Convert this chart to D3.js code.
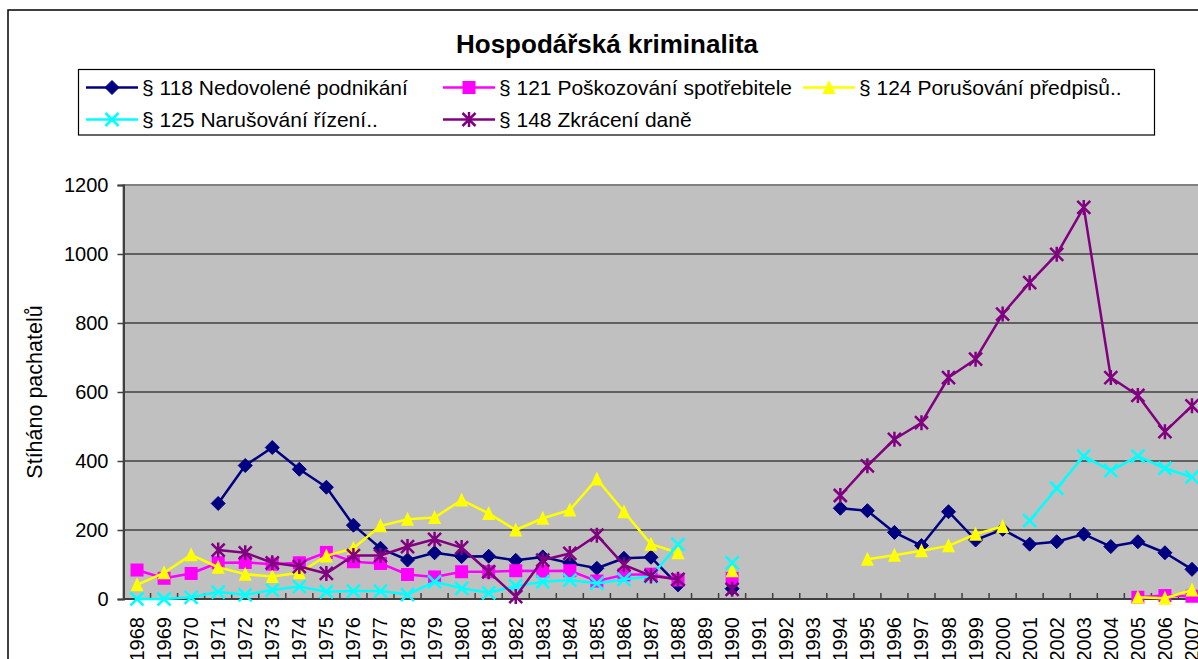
<!DOCTYPE html>
<html>
<head>
<meta charset="utf-8">
<script src="https://cdn.jsdelivr.net/npm/d3@7"></script>
<style>
  html, body { margin: 0; padding: 0; background: #fff; }
  svg { display: block; font-family: "Liberation Sans", Arial, sans-serif; }
</style>
</head>
<body>
<svg id="chart" width="1198" height="659"></svg>
<script>
const years = [1968,1969,1970,1971,1972,1973,1974,1975,1976,1977,1978,1979,1980,1981,1982,1983,1984,1985,1986,1987,1988,1989,1990,1991,1992,1993,1994,1995,1996,1997,1998,1999,2000,2001,2002,2003,2004,2005,2006,2007];
const yTicks = [0, 200, 400, 600, 800, 1000, 1200];
const seriesNames = ["§ 118 Nedovolené podnikání", "§ 121 Poškozování spotřebitele", "§ 124 Porušování předpisů..", "§ 125 Narušování řízení..", "§ 148 Zkrácení daně"];
const seriesColors = ["#000080", "#FF00FF", "#FFFF00", "#00FFFF", "#800080"];
const seriesMarkers = ["diamond", "square", "triangle", "x", "star"];

const s118 = [null,null,null,277,387,439,376,324,214,147,113,134,123,124,112,122,104,89,118,121,41,null,30,null,null,null,263,256,193,155,253,171,202,159,166,188,152,166,134,86];
const s121 = [84,60,74,105,106,101,105,135,108,103,71,64,79,79,82,81,82,52,70,72,55,null,60,null,null,null,null,null,null,null,null,null,null,null,null,null,null,5,10,8];
const s124 = [41,76,128,92,72,65,76,125,147,212,231,236,287,248,200,234,258,348,253,159,134,null,82,null,null,null,null,115,127,140,154,188,210,null,null,null,null,5,2,26];
const s125 = [0,0,5,20,12,26,36,21,23,23,13,50,31,18,38,50,55,45,57,65,158,null,105,null,null,null,null,null,null,null,null,null,null,227,321,414,372,414,379,353];
const s148 = [null,null,null,142,134,105,94,74,126,126,152,173,149,79,7,113,132,185,99,67,57,null,28,null,null,null,300,386,463,511,642,695,826,917,999,1135,642,590,485,560];
const seriesValues = [s118, s121, s124, s125, s148];

const svg = d3.select("#chart");
const plot = { left: 123.5, top: 185, right: 1205.5, bottom: 599 };

// outer chart border
svg.append("rect").attr("x", 8).attr("y", 10).attr("width", 1400).attr("height", 900)
  .attr("fill", "#fff").attr("stroke", "#000").attr("stroke-width", 1.5);

// title
svg.append("text").attr("x", 607).attr("y", 53).attr("text-anchor", "middle")
  .attr("font-size", 26).attr("font-weight", "bold").text("Hospodářská kriminalita");

const x = d3.scaleBand().domain(years).range([plot.left, plot.right]).paddingInner(0).paddingOuter(0);
const cx = d => x(d) + x.bandwidth() / 2;
const y = d3.scaleLinear().domain([0, 1200]).range([plot.bottom, plot.top]);

// plot area
svg.append("rect").attr("x", plot.left).attr("y", plot.top)
  .attr("width", plot.right - plot.left).attr("height", plot.bottom - plot.top)
  .attr("fill", "#C0C0C0").attr("stroke", "#808080").attr("stroke-width", 2);

// gridlines
svg.append("g").selectAll("line").data(yTicks.filter(t => t > 0 && t < 1200)).join("line")
  .attr("x1", plot.left).attr("x2", plot.right)
  .attr("y1", d => y(d)).attr("y2", d => y(d))
  .attr("stroke", "#000").attr("stroke-width", 1);

// y axis
const yAxis = d3.axisLeft(y).tickValues(yTicks).tickSize(6).tickPadding(9).tickFormat(d3.format("d"));
const gy = svg.append("g").attr("transform", `translate(${plot.left},0)`).call(yAxis);
gy.select(".domain").attr("stroke", "#404040").attr("stroke-width", 2);
gy.selectAll(".tick line").attr("stroke", "#404040").attr("stroke-width", 1.5);
gy.selectAll(".tick text").attr("font-size", 20).attr("font-family", "Liberation Sans, Arial, sans-serif").attr("fill", "#000");

// x axis line + inward ticks at band boundaries
const gx = svg.append("g");
gx.append("line").attr("x1", plot.left).attr("x2", plot.right).attr("y1", plot.bottom).attr("y2", plot.bottom)
  .attr("stroke", "#404040").attr("stroke-width", 2);
gx.selectAll("line.tk").data(years.slice(1)).join("line").attr("class", "tk")
  .attr("x1", d => x(d)).attr("x2", d => x(d))
  .attr("y1", plot.bottom).attr("y2", plot.bottom - 6)
  .attr("stroke", "#404040").attr("stroke-width", 1.5);
gx.selectAll("text").data(years).join("text")
  .attr("transform", d => `translate(${cx(d)},617) rotate(-90)`)
  .attr("text-anchor", "end").attr("dy", "0.35em")
  .attr("font-size", 20).text(d => d);

// y axis title
svg.append("text").attr("transform", `translate(42,${(plot.top + plot.bottom) / 2}) rotate(-90)`)
  .attr("text-anchor", "middle").attr("font-size", 21.5).text("Stíháno pachatelů");

// marker drawing
function drawMarker(g, type, color, px, py, s) {
  const h = s / 2;
  if (type === "diamond") {
    g.append("path").attr("d", `M${px},${py - h}L${px + h},${py}L${px},${py + h}L${px - h},${py}Z`).attr("fill", color).attr("stroke", color);
  } else if (type === "square") {
    g.append("rect").attr("x", px - h).attr("y", py - h).attr("width", s).attr("height", s).attr("fill", color);
  } else if (type === "triangle") {
    g.append("path").attr("d", `M${px},${py - h - 1}L${px + h},${py + h}L${px - h},${py + h}Z`).attr("fill", color);
  } else if (type === "x") {
    g.append("path").attr("d", `M${px - h},${py - h}L${px + h},${py + h}M${px - h},${py + h}L${px + h},${py - h}`)
      .attr("stroke", color).attr("stroke-width", 2.5).attr("fill", "none");
  } else if (type === "star") {
    g.append("path").attr("d", `M${px - h},${py - h}L${px + h},${py + h}M${px - h},${py + h}L${px + h},${py - h}M${px},${py - h - 1}L${px},${py + h + 1}`)
      .attr("stroke", color).attr("stroke-width", 2.5).attr("fill", "none");
  }
}
const markerSize = [14, 13, 13, 13, 13];

const line = d3.line().defined(d => d.v != null).x(d => cx(d.year)).y(d => y(d.v));
seriesValues.forEach((vals, i) => {
  const data = years.map((yr, k) => ({ year: yr, v: vals[k] }));
  const g = svg.append("g");
  g.append("path").datum(data).attr("d", line).attr("fill", "none")
    .attr("stroke", seriesColors[i]).attr("stroke-width", 2.5).attr("stroke-linejoin", "round");
  data.filter(d => d.v != null).forEach(d => drawMarker(g, seriesMarkers[i], seriesColors[i], cx(d.year), y(d.v), markerSize[i]));
});

// legend
const legend = svg.append("g");
legend.append("rect").attr("x", 78.5).attr("y", 69.5).attr("width", 1076).attr("height", 65.5)
  .attr("fill", "#fff").attr("stroke", "#000").attr("stroke-width", 1.2);
const legPos = [[86, 87.5], [443, 87.5], [803, 87.5], [86, 119.5], [443, 119.5]];
seriesNames.forEach((name, i) => {
  const [lx, ly] = legPos[i];
  legend.append("line").attr("x1", lx).attr("x2", lx + 52).attr("y1", ly).attr("y2", ly)
    .attr("stroke", seriesColors[i]).attr("stroke-width", 2.5);
  drawMarker(legend, seriesMarkers[i], seriesColors[i], lx + 26, ly, markerSize[i]);
  legend.append("text").attr("x", lx + 56).attr("y", ly + 7).attr("font-size", 21).text(name);
});
</script>
</body>
</html>
